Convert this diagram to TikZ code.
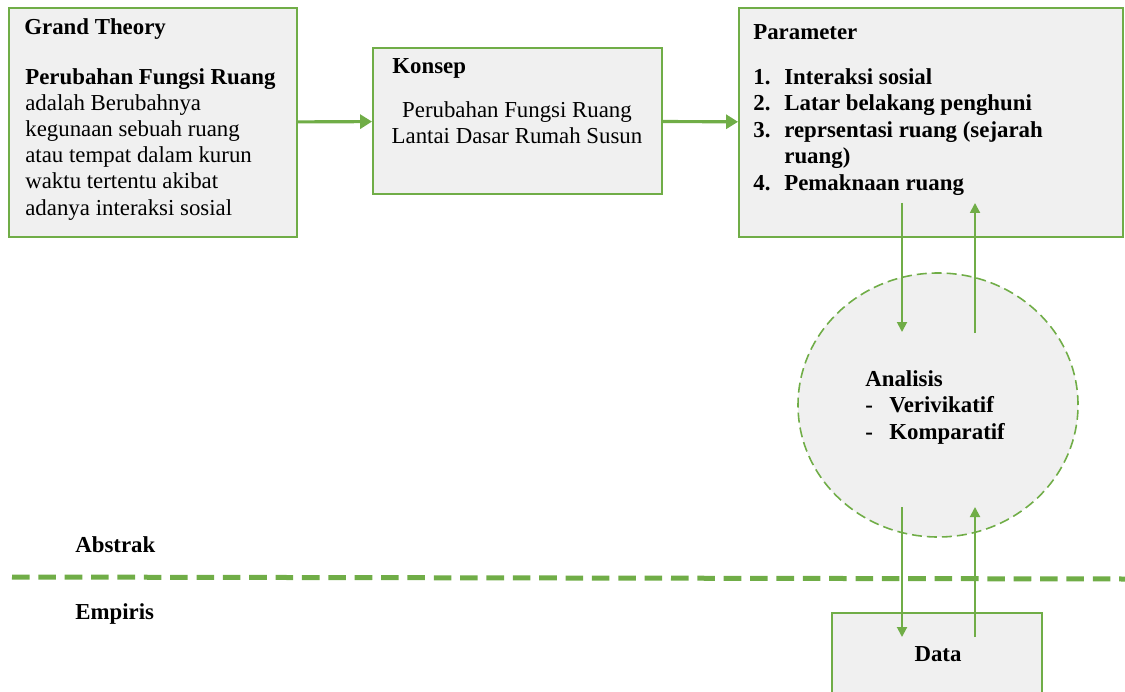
\documentclass[tikz,border=0pt]{standalone}
\usepackage{fontspec}
\setmainfont{Liberation Serif}
\usetikzlibrary{shapes.geometric,calc,arrows.meta}
\definecolor{boxgreen}{HTML}{70AD47}
\definecolor{boxgray}{HTML}{F0F0F0}
\tikzset{
  box/.style={draw=boxgreen,fill=boxgray,line width=1.1pt,inner sep=0pt},
  txt/.style={inner sep=0pt,font=\fontsize{13}{14.9}\selectfont},
  flow/.style={draw=boxgreen,line width=1.8pt,-{Triangle[length=0.24cm,width=0.28cm]}},
  link/.style={draw=boxgreen,line width=1.1pt,-{Triangle[length=0.2cm,width=0.2cm]}}
}

\begin{document}
\begin{tikzpicture}
  \useasboundingbox (0, 0) rectangle (22.5, 13.82);
  \node[box,minimum width=5.76cm,minimum height=4.58cm] (gt) at (3.06, 11.37) {};
  \node[box,minimum width=5.78cm,minimum height=2.92cm] (konsep) at (10.35, 11.40) {};
  \node[box,minimum width=7.68cm,minimum height=4.58cm] (param) at (18.62, 11.37) {};
  \node[ellipse,draw=boxgreen,fill=boxgray,line width=0.9pt,dash pattern=on 0.2cm off 0.1cm,
    minimum width=5.6cm,minimum height=5.28cm,inner sep=0pt] (analisis) at (18.76, 5.72) {};
  \node[box,minimum width=4.2cm,minimum height=2.1cm] (data) at (18.74, 0.51) {};

  \node[txt,anchor=west] (gtjudul) at (0.48, 13.24) {\textbf{Grand Theory}};
  \node[txt,anchor=north west,align=left] (gtisi) at (0.5, 12.46)
    {\textbf{Perubahan Fungsi Ruang}\\ adalah Berubahnya\\ kegunaan sebuah ruang\\
     atau tempat dalam kurun\\ waktu tertentu akibat\\ adanya interaksi sosial};
  \node[txt,anchor=west] (kjudul) at (7.84, 12.46) {\textbf{Konsep}};
  \node[txt,align=center] (kisi) at (10.34, 11.36)
    {Perubahan Fungsi Ruang\\ Lantai Dasar Rumah Susun};
  \node[txt,anchor=west] (pjudul) at (15.06, 13.18) {\textbf{Parameter}};
  \node[txt,anchor=north west,align=left,font=\fontsize{13}{15.1}\selectfont\bfseries] (pisi) at (15.06, 12.46)
    {\makebox[0.62cm][l]{1.}Interaksi sosial\\ \makebox[0.62cm][l]{2.}Latar belakang penghuni\\
     \makebox[0.62cm][l]{3.}reprsentasi ruang (sejarah\\ \makebox[0.62cm][l]{}ruang)\\
     \makebox[0.62cm][l]{4.}Pemaknaan ruang};
  \node[txt,anchor=north west,align=left,font=\fontsize{13}{15.1}\selectfont\bfseries] (aisi) at (17.3, 6.42)
    {Analisis\\ \makebox[0.48cm][l]{-}Verivikatif\\ \makebox[0.48cm][l]{-}Komparatif};
  \node[txt,anchor=west,font=\fontsize{13}{14.9}\selectfont\bfseries] (abstrak) at (1.5, 2.92) {Abstrak};
  \node[txt,anchor=west,font=\fontsize{13}{14.9}\selectfont\bfseries] (empiris) at (1.5, 1.54) {Empiris};
  \node[txt,font=\fontsize{13}{14.9}\selectfont\bfseries] (dtext) at (18.76, 0.74) {Data};

  \draw[flow] (gt) -- (konsep);
  \draw[flow] (konsep) -- (param);

  \coordinate (p1) at (18.04, 9.76);
  \coordinate (a1) at (18.04, 7.18);
  \coordinate (p2) at (19.50, 9.76);
  \coordinate (a2) at (19.50, 7.16);
  \coordinate (a3) at (18.04, 3.68);
  \coordinate (d1) at (18.04, 1.08);
  \coordinate (a4) at (19.50, 3.68);
  \coordinate (d2) at (19.50, 1.08);
  \draw[link] (p1) -- (a1);
  \draw[link] (a2) -- (p2);
  \draw[link] (a3) -- (d1);
  \draw[link] (d2) -- (a4);

  \draw[boxgreen,line width=0.1cm,dash pattern=on 10pt off 5pt]
    (0.24, 2.28) -- (22.5, 2.24);
\end{tikzpicture}
\end{document}
